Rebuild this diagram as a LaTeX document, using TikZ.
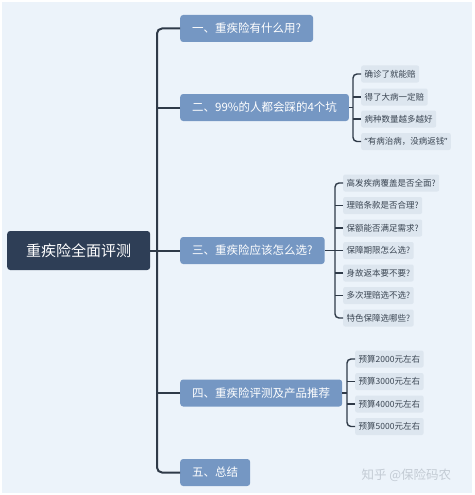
\documentclass[tikz,border=0pt]{standalone}
\usepackage{fontspec}
\setmainfont{Noto Sans CJK SC}
\newfontfamily\quotefont{Noto Sans}
\usetikzlibrary{positioning}
\definecolor{pagebg}{HTML}{ECF3FA}
\definecolor{rootnavy}{HTML}{2E3E56}
\definecolor{topicblue}{HTML}{7597C3}
\definecolor{leafgrey}{HTML}{DDE6EF}
\definecolor{leaftext}{HTML}{3A4552}
\definecolor{linkdark}{HTML}{2F3A48}
\definecolor{markgrey}{HTML}{C3CBD4}

\begin{document}
\begin{tikzpicture}[x=1pt,y=-1pt,
    root/.style={fill=rootnavy, text=white, rounded corners=3pt, font=\fontsize{15}{15}\selectfont, minimum height=39pt, inner xsep=19pt, anchor=west},
    topic/.style={fill=topicblue, text=white, rounded corners=3pt, font=\fontsize{11.5}{12}\selectfont, minimum height=27pt, inner xsep=12pt, anchor=west},
    leaf/.style={fill=leafgrey, text=leaftext, rounded corners=2pt, font=\fontsize{8.5}{9}\selectfont, minimum height=17pt, inner xsep=3.5pt, anchor=west},
    trunk/.style={draw=linkdark, line width=2pt, rounded corners=5pt},
    twig/.style={draw=linkdark, line width=1.4pt, rounded corners=4pt}]
        \useasboundingbox (0,0) rectangle (474,495);
        \fill[white] (0,0) rectangle (474,495);
        \fill[pagebg] (2,2) rectangle (472,493);
        % root and topics
        \node[root] (root) at (7,250.5) {重疾险全面评测};
        \node[topic] (t1) at (180,28.5) {一、重疾险有什么用?};
        \node[topic] (t2) at (180,107.5) {二、99\%的人都会踩的4个坑};
        \node[topic] (t3) at (180,250.5) {三、重疾险应该怎么选?};
        \node[topic] (t4) at (180,393) {四、重疾险评测及产品推荐};
        \node[topic] (t5) at (180,472.5) {五、总结};
        % leaves of t2
        \node[leaf] (l21) at (361,74) {确诊了就能赔};
        \node[leaf] (l22) at (361,97) {得了大病一定赔};
        \node[leaf] (l23) at (361,119) {病种数量越多越好};
        \node[leaf] (l24) at (361,141.5) {{\quotefont “}有病治病，没病返钱{\quotefont ”}};
        % leaves of t3
        \node[leaf] (l31) at (343,183) {高发疾病覆盖是否全面?};
        \node[leaf] (l32) at (343,205.5) {理赔条款是否合理?};
        \node[leaf] (l33) at (343,228) {保额能否满足需求?};
        \node[leaf] (l34) at (343,250.5) {保障期限怎么选?};
        \node[leaf] (l35) at (343,273) {身故返本要不要?};
        \node[leaf] (l36) at (343,295.5) {多次理赔选不选?};
        \node[leaf] (l37) at (343,318) {特色保障选哪些?};
        % leaves of t4
        \node[leaf] (l41) at (355,359) {预算2000元左右};
        \node[leaf] (l42) at (355,381.5) {预算3000元左右};
        \node[leaf] (l43) at (355,404) {预算4000元左右};
        \node[leaf] (l44) at (355,426.5) {预算5000元左右};
        \node[font=\fontsize{12.5}{13}\selectfont, text=markgrey, anchor=west] (mark) at (358,475) {知乎 @保险码农};
        % main trunk
        \draw[trunk] (t1.west) -- ++(-23,0) |- (t5.west);
        \draw[trunk] (t2.west) -- ++(-23,0);
        \draw[trunk] (t4.west) -- ++(-23,0);
        \draw[trunk] (root.east) -- (t3.west);
        % brackets
        \draw[twig] (t2.east) -- ([xshift=-8pt]t2.east -| l21.west);
        \draw[twig] (l21.west) -- ++(-8,0) |- (l24.west);
        \draw[twig] (l22.west) -- ++(-8,0);
        \draw[twig] (l23.west) -- ++(-8,0);
        \draw[twig] (t3.east) -- ([xshift=-8pt]t3.east -| l31.west);
        \draw[twig] (l31.west) -- ++(-8,0) |- (l37.west);
        \draw[twig] (l32.west) -- ++(-8,0);
        \draw[twig] (l33.west) -- ++(-8,0);
        \draw[twig] (l34.west) -- ++(-8,0);
        \draw[twig] (l35.west) -- ++(-8,0);
        \draw[twig] (l36.west) -- ++(-8,0);
        \draw[twig] (t4.east) -- ([xshift=-8pt]t4.east -| l41.west);
        \draw[twig] (l41.west) -- ++(-8,0) |- (l44.west);
        \draw[twig] (l42.west) -- ++(-8,0);
        \draw[twig] (l43.west) -- ++(-8,0);
\end{tikzpicture}
\end{document}
